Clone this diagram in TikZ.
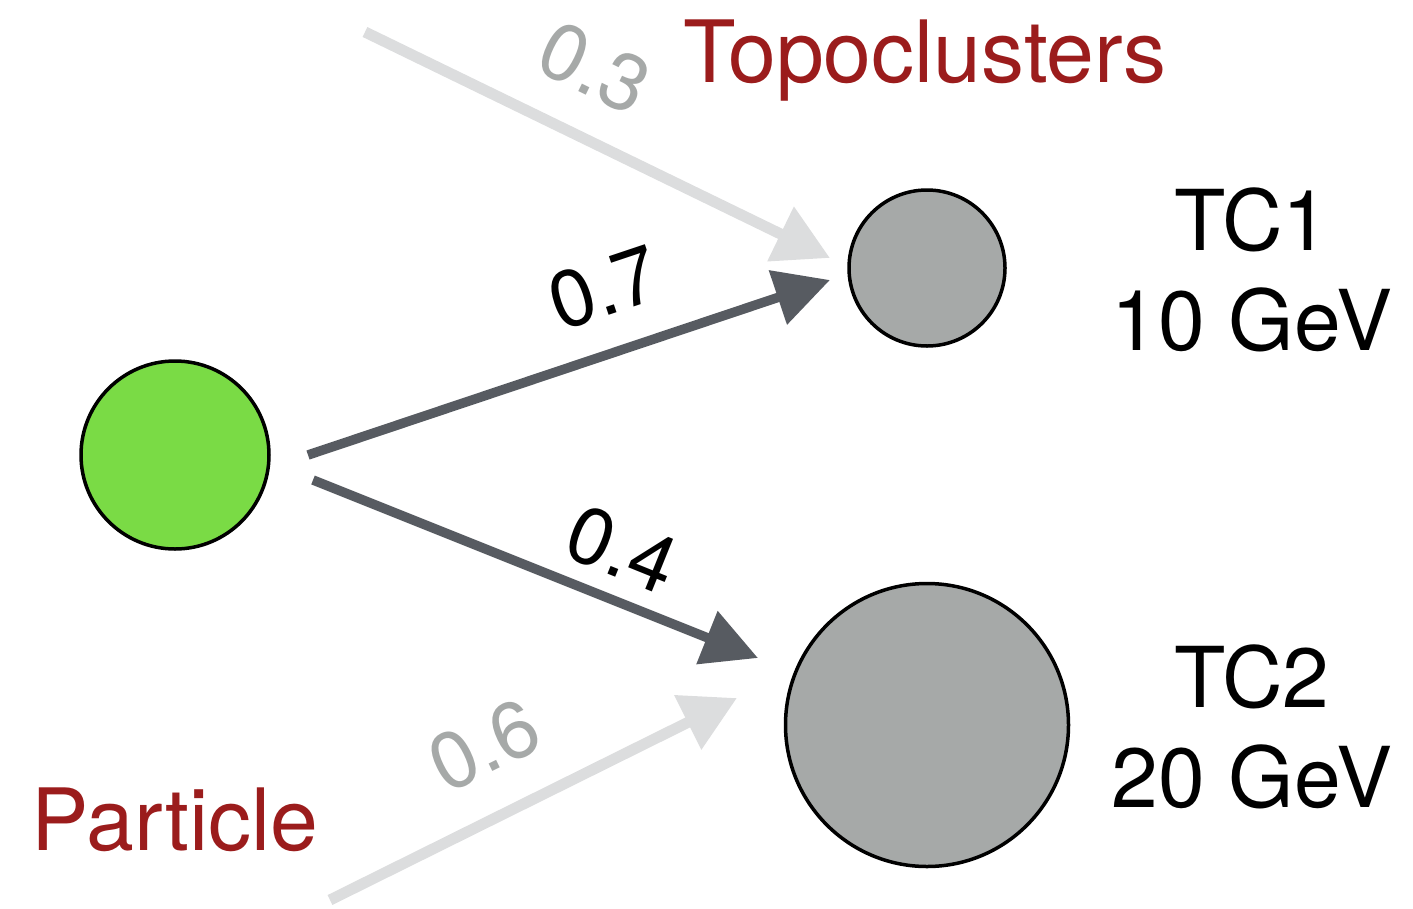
\documentclass[tikz,border=0pt]{standalone}
\usepackage{fontspec}
\setmainfont{TeX Gyre Heros}
\usetikzlibrary{arrows.meta}
\definecolor{linkdark}{HTML}{575B61}
\definecolor{linklight}{HTML}{DCDDDE}
\definecolor{labellight}{HTML}{A6A9A8}
\definecolor{nodegray}{HTML}{A6A9A8}
\definecolor{particlegreen}{HTML}{7ADB45}
\definecolor{titlered}{HTML}{9B1C1C}
\begin{document}
\begin{tikzpicture}[x=1pt,y=-1pt,
  blob/.style={circle,draw=black,line width=3.5pt,inner sep=0pt},
  strong/.style={draw=linkdark,line width=9.5pt,-{Triangle[length=55pt,width=55pt]}},
  weak/.style={draw=linklight,line width=11pt,-{Triangle[length=55pt,width=58pt]}},
  weight/.style={font=\fontsize{80}{80}\selectfont,inner sep=0pt},
  title/.style={font=\fontsize{86}{86}\selectfont,text=titlered,inner sep=0pt},
  tclabel/.style={font=\fontsize{84}{100}\selectfont,align=center,inner sep=0pt}]
\useasboundingbox (0,0) rectangle (1413,908);

% particle and topocluster nodes
\node[blob,fill=particlegreen,minimum size=188pt] (p) at (175,455) {};
\node[blob,fill=nodegray,minimum size=156pt] (tc1) at (927,268) {};
\node[blob,fill=nodegray,minimum size=283pt] (tc2) at (927,725) {};

% link end points
\coordinate (a1) at (308,455);
\coordinate (b1) at (830,280);
\coordinate (a2) at (313,480);
\coordinate (b2) at (758,658);
\coordinate (a3) at (365,32);
\coordinate (b3) at (830,258);
\coordinate (a4) at (330,900);
\coordinate (b4) at (737,698);

% links
\draw[weak] (a3) -- (b3);
\draw[weak] (a4) -- (b4);
\draw[strong] (a1) -- (b1);
\draw[strong] (a2) -- (b2);

% weights
\node[weight,rotate=18.5] (w1) at (604,288) {0.7};
\node[weight,rotate=-22] (w2) at (622,550) {0.4};
\node[weight,rotate=-26,text=labellight] (w3) at (595,68) {0.3};
\node[weight,rotate=26,text=labellight] (w4) at (484,745) {0.6};

% titles
\node[title,anchor=base] (t1) at (925,82) {Topoclusters};
\node[title,anchor=base] (t2) at (175,850) {Particle};

% topocluster energies
\node[tclabel] (l1) at (1252,270) {TC1\\10 GeV};
\node[tclabel] (l2) at (1252,727) {TC2\\20 GeV};
\end{tikzpicture}
\end{document}
